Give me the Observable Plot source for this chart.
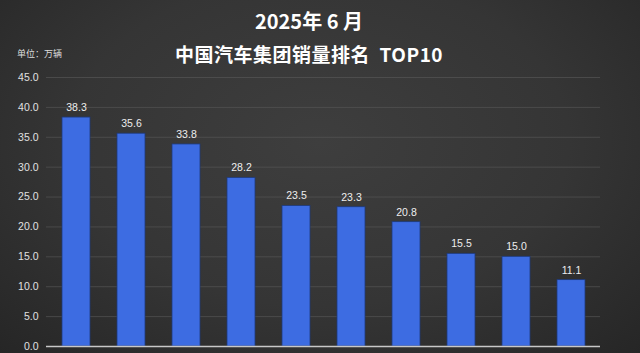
<!DOCTYPE html>
<html>
<head>
<meta charset="utf-8">
<script src="https://cdn.jsdelivr.net/npm/d3@7"></script>
<script src="https://cdn.jsdelivr.net/npm/@observablehq/plot@0.6"></script>
<style>
  html, body { margin: 0; padding: 0; }
  body { width: 640px; height: 353px; overflow: hidden; position: relative;
    background: radial-gradient(ellipse at 50% 40%, #3e3e3e 0%, #353535 55%, #262626 100%);
    font-family: "Noto Sans CJK SC", "Noto Sans", sans-serif; }
  .title { position: absolute; left: -11px; width: 640px; text-align: center; color: #fff; font-weight: 700; }
  #t1 { top: 6px; font-size: 20px; }
  #t2 { top: 40px; font-size: 19px; letter-spacing: 0.5px; }
  #unit { position: absolute; left: 17px; top: 47px; font-size: 9px; color: #ddd; }
  #chart { position: absolute; left: 0; top: 0; }
</style>
</head>
<body>
<div id="chart"></div>
<div class="title" id="t1">2025年 6 月</div>
<div class="title" id="t2">中国汽车集团销量排名&nbsp;&nbsp;TOP10</div>
<div id="unit">单位：万辆</div>
<script>
const ranks = ["1","2","3","4","5","6","7","8","9","10"];
const sales = [38.3, 35.6, 33.8, 28.2, 23.5, 23.3, 20.8, 15.5, 15.0, 11.1];
const yTicks = [0, 5, 10, 15, 20, 25, 30, 35, 40, 45];

const data = ranks.map((r, i) => ({rank: r, value: sales[i]}));

const chart = Plot.plot({
  width: 640,
  height: 353,
  marginTop: 77,
  marginBottom: 7,
  marginLeft: 46,
  marginRight: 40,
  style: {background: "transparent", color: "#e0e0e0", fontSize: "10.5px", fontFamily: "Liberation Sans, Arial, sans-serif"},
  x: {domain: ranks, paddingInner: 0.494, paddingOuter: 0.235, axis: null},
  y: {domain: [0, 45], ticks: yTicks, tickFormat: d3.format(".1f"), label: null, tickSize: 0, tickPadding: 8},
  marks: [
    Plot.gridY(yTicks, {stroke: "#5a5a5a", strokeOpacity: 0.6}),
    Plot.barY(data, {x: "rank", y: "value", fill: "#3d6ce2", stroke: "#1e3a7a", strokeWidth: 0.8}),
    Plot.ruleY([0], {stroke: "#c8c8c8", strokeWidth: 1.5}),
    Plot.text(data, {x: "rank", y: "value", text: d => d3.format(".1f")(d.value), dy: -10, fill: "#eee", fontSize: 10.5})
  ]
});
document.getElementById("chart").appendChild(chart);
</script>
</body>
</html>
